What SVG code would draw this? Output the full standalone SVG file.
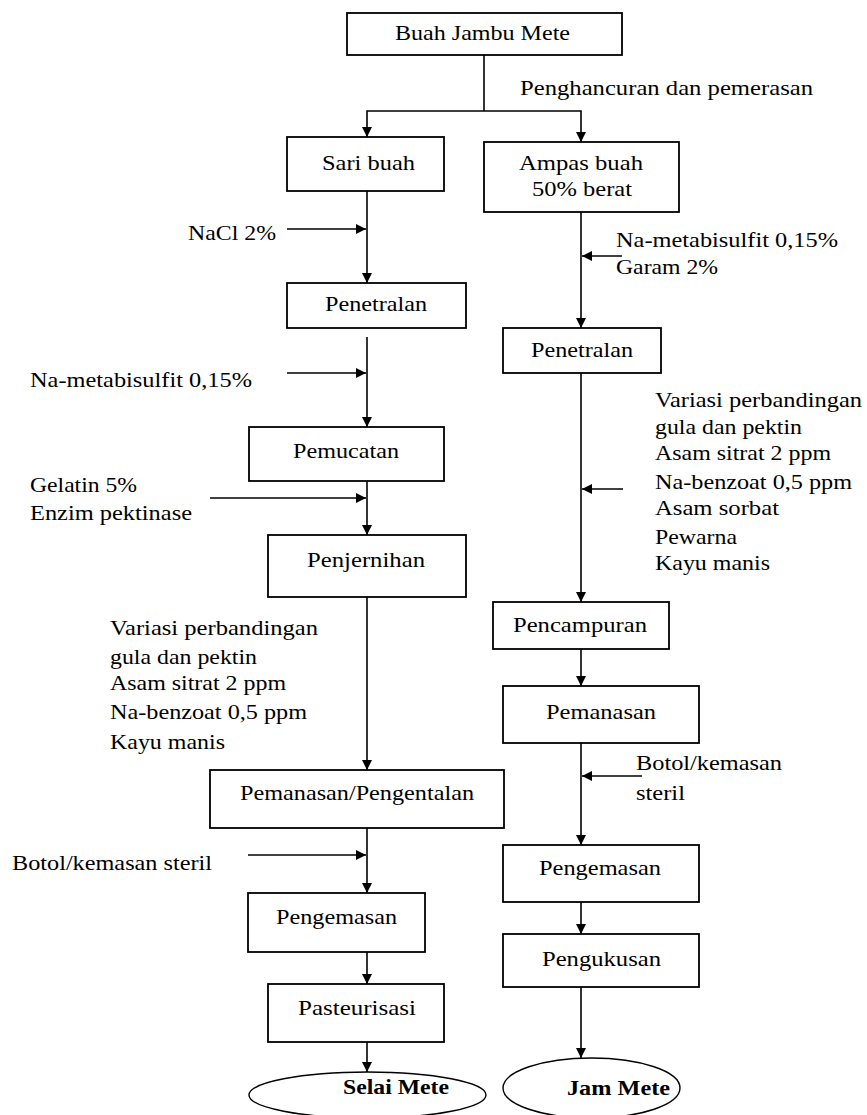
<svg xmlns="http://www.w3.org/2000/svg" width="867" height="1115" viewBox="0 0 867 1115">
<style>
.box{fill:#fff;stroke:#000;stroke-width:1.8}
.ell{fill:none;stroke:#000;stroke-width:1.4}
.t{font-family:"Liberation Serif","Times New Roman",serif;font-size:21px;fill:#000}
.b{font-weight:bold}
.c{fill:none;stroke:#000;stroke-width:1.6}
</style>
<defs>
<marker id="ah" markerUnits="userSpaceOnUse" markerWidth="10" markerHeight="10" refX="10" refY="5" orient="auto" viewBox="0 0 10 10">
<path d="M0,0 L10,5 L0,10 z" fill="#000"/>
</marker>
</defs>
<rect width="867" height="1115" fill="#fff"/>

<g id="connectors">
<path class="c" d="M484,55 V111"/>
<path class="c" d="M484,111 H367 V137" marker-end="url(#ah)"/>
<path class="c" d="M484,111 H581 V142" marker-end="url(#ah)"/>
<path class="c" d="M367,191 V283" marker-end="url(#ah)"/>
<path class="c" d="M287,229 H366" marker-end="url(#ah)"/>
<path class="c" d="M367,337 V427" marker-end="url(#ah)"/>
<path class="c" d="M287,373 H366" marker-end="url(#ah)"/>
<path class="c" d="M367,481 V535" marker-end="url(#ah)"/>
<path class="c" d="M210,498 H366" marker-end="url(#ah)"/>
<path class="c" d="M367,597 V770" marker-end="url(#ah)"/>
<path class="c" d="M367,828 V893" marker-end="url(#ah)"/>
<path class="c" d="M248,855 H366" marker-end="url(#ah)"/>
<path class="c" d="M367,952 V984" marker-end="url(#ah)"/>
<path class="c" d="M367,1042 V1072" marker-end="url(#ah)"/>
<path class="c" d="M581,212 V328" marker-end="url(#ah)"/>
<path class="c" d="M622,256 H582" marker-end="url(#ah)"/>
<path class="c" d="M581,373 V602" marker-end="url(#ah)"/>
<path class="c" d="M623,489 H582" marker-end="url(#ah)"/>
<path class="c" d="M581,649 V686" marker-end="url(#ah)"/>
<path class="c" d="M581,743 V845" marker-end="url(#ah)"/>
<path class="c" d="M642,776 H582" marker-end="url(#ah)"/>
<path class="c" d="M581,902 V934" marker-end="url(#ah)"/>
<path class="c" d="M581,987 V1058" marker-end="url(#ah)"/>
</g>

<g id="labels">
<text class="t" x="520" y="95" textLength="293" lengthAdjust="spacingAndGlyphs">Penghancuran dan pemerasan</text>
<text class="t" x="188" y="240" textLength="88" lengthAdjust="spacingAndGlyphs">NaCl 2%</text>
<text class="t" x="30" y="387" textLength="222" lengthAdjust="spacingAndGlyphs">Na-metabisulfit 0,15%</text>
<text class="t" x="30" y="492" textLength="107" lengthAdjust="spacingAndGlyphs">Gelatin 5%</text>
<text class="t" x="30" y="520" textLength="162" lengthAdjust="spacingAndGlyphs">Enzim pektinase</text>
<text class="t" x="110" y="635" textLength="208" lengthAdjust="spacingAndGlyphs">Variasi perbandingan</text>
<text class="t" x="110" y="664" textLength="147" lengthAdjust="spacingAndGlyphs">gula dan pektin</text>
<text class="t" x="110" y="690" textLength="176" lengthAdjust="spacingAndGlyphs">Asam sitrat 2 ppm</text>
<text class="t" x="110" y="719" textLength="197" lengthAdjust="spacingAndGlyphs">Na-benzoat 0,5 ppm</text>
<text class="t" x="110" y="749" textLength="115" lengthAdjust="spacingAndGlyphs">Kayu manis</text>
<text class="t" x="12" y="870" textLength="200" lengthAdjust="spacingAndGlyphs">Botol/kemasan steril</text>
<text class="t" x="616" y="247" textLength="222" lengthAdjust="spacingAndGlyphs">Na-metabisulfit 0,15%</text>
<text class="t" x="616" y="274" textLength="102" lengthAdjust="spacingAndGlyphs">Garam 2%</text>
<text class="t" x="655" y="407" textLength="207" lengthAdjust="spacingAndGlyphs">Variasi perbandingan</text>
<text class="t" x="655" y="434" textLength="147" lengthAdjust="spacingAndGlyphs">gula dan pektin</text>
<text class="t" x="655" y="460" textLength="176" lengthAdjust="spacingAndGlyphs">Asam sitrat 2 ppm</text>
<text class="t" x="655" y="489" textLength="197" lengthAdjust="spacingAndGlyphs">Na-benzoat 0,5 ppm</text>
<text class="t" x="655" y="515" textLength="124" lengthAdjust="spacingAndGlyphs">Asam sorbat</text>
<text class="t" x="655" y="544" textLength="82" lengthAdjust="spacingAndGlyphs">Pewarna</text>
<text class="t" x="655" y="570" textLength="115" lengthAdjust="spacingAndGlyphs">Kayu manis</text>
<text class="t" x="636" y="770" textLength="146" lengthAdjust="spacingAndGlyphs">Botol/kemasan</text>
<text class="t" x="636" y="800" textLength="49" lengthAdjust="spacingAndGlyphs">steril</text>
</g>

<g id="n-buah"><rect class="box" x="347" y="13" width="275" height="42"/><text class="t" x="395" y="40" textLength="175" lengthAdjust="spacingAndGlyphs">Buah Jambu Mete</text></g>
<g id="n-sari"><rect class="box" x="287" y="137" width="157" height="54"/><text class="t" x="322" y="170" textLength="93" lengthAdjust="spacingAndGlyphs">Sari buah</text></g>
<g id="n-ampas"><rect class="box" x="484" y="142" width="195" height="70"/><text class="t" x="519" y="170" textLength="124" lengthAdjust="spacingAndGlyphs">Ampas buah</text><text class="t" x="532" y="196" textLength="100" lengthAdjust="spacingAndGlyphs">50% berat</text></g>
<g id="n-penetralan-l"><rect class="box" x="287" y="283" width="179" height="45"/><text class="t" x="325" y="311" textLength="102" lengthAdjust="spacingAndGlyphs">Penetralan</text></g>
<g id="n-pemucatan"><rect class="box" x="249" y="427" width="195" height="54"/><text class="t" x="293" y="458" textLength="106" lengthAdjust="spacingAndGlyphs">Pemucatan</text></g>
<g id="n-penjernihan"><rect class="box" x="268" y="535" width="198" height="62"/><text class="t" x="307" y="567" font-size="22" textLength="118" lengthAdjust="spacingAndGlyphs">Penjernihan</text></g>
<g id="n-pemanasan-l"><rect class="box" x="210" y="770" width="294" height="58"/><text class="t" x="240" y="800" textLength="234" lengthAdjust="spacingAndGlyphs">Pemanasan/Pengentalan</text></g>
<g id="n-pengemasan-l"><rect class="box" x="248" y="893" width="177" height="59"/><text class="t" x="276" y="924" textLength="121" lengthAdjust="spacingAndGlyphs">Pengemasan</text></g>
<g id="n-pasteurisasi"><rect class="box" x="268" y="984" width="176" height="58"/><text class="t" x="298" y="1015" textLength="118" lengthAdjust="spacingAndGlyphs">Pasteurisasi</text></g>
<g id="n-selai"><ellipse class="ell" cx="367.5" cy="1095" rx="118.5" ry="23"/><text class="t b" x="343" y="1094" textLength="106" lengthAdjust="spacingAndGlyphs">Selai Mete</text></g>
<g id="n-penetralan-r"><rect class="box" x="503" y="328" width="158" height="45"/><text class="t" x="531" y="357" textLength="102" lengthAdjust="spacingAndGlyphs">Penetralan</text></g>
<g id="n-pencampuran"><rect class="box" x="493" y="602" width="176" height="47"/><text class="t" x="513" y="632" textLength="134" lengthAdjust="spacingAndGlyphs">Pencampuran</text></g>
<g id="n-pemanasan-r"><rect class="box" x="503" y="686" width="196" height="57"/><text class="t" x="546" y="719" textLength="110" lengthAdjust="spacingAndGlyphs">Pemanasan</text></g>
<g id="n-pengemasan-r"><rect class="box" x="503" y="845" width="196" height="57"/><text class="t" x="539" y="875" textLength="122" lengthAdjust="spacingAndGlyphs">Pengemasan</text></g>
<g id="n-pengukusan"><rect class="box" x="503" y="934" width="196" height="53"/><text class="t" x="542" y="966" textLength="119" lengthAdjust="spacingAndGlyphs">Pengukusan</text></g>
<g id="n-jam"><ellipse class="ell" cx="591.5" cy="1088" rx="88.5" ry="30"/><text class="t b" x="567" y="1095" textLength="103" lengthAdjust="spacingAndGlyphs">Jam Mete</text></g>
</svg>
